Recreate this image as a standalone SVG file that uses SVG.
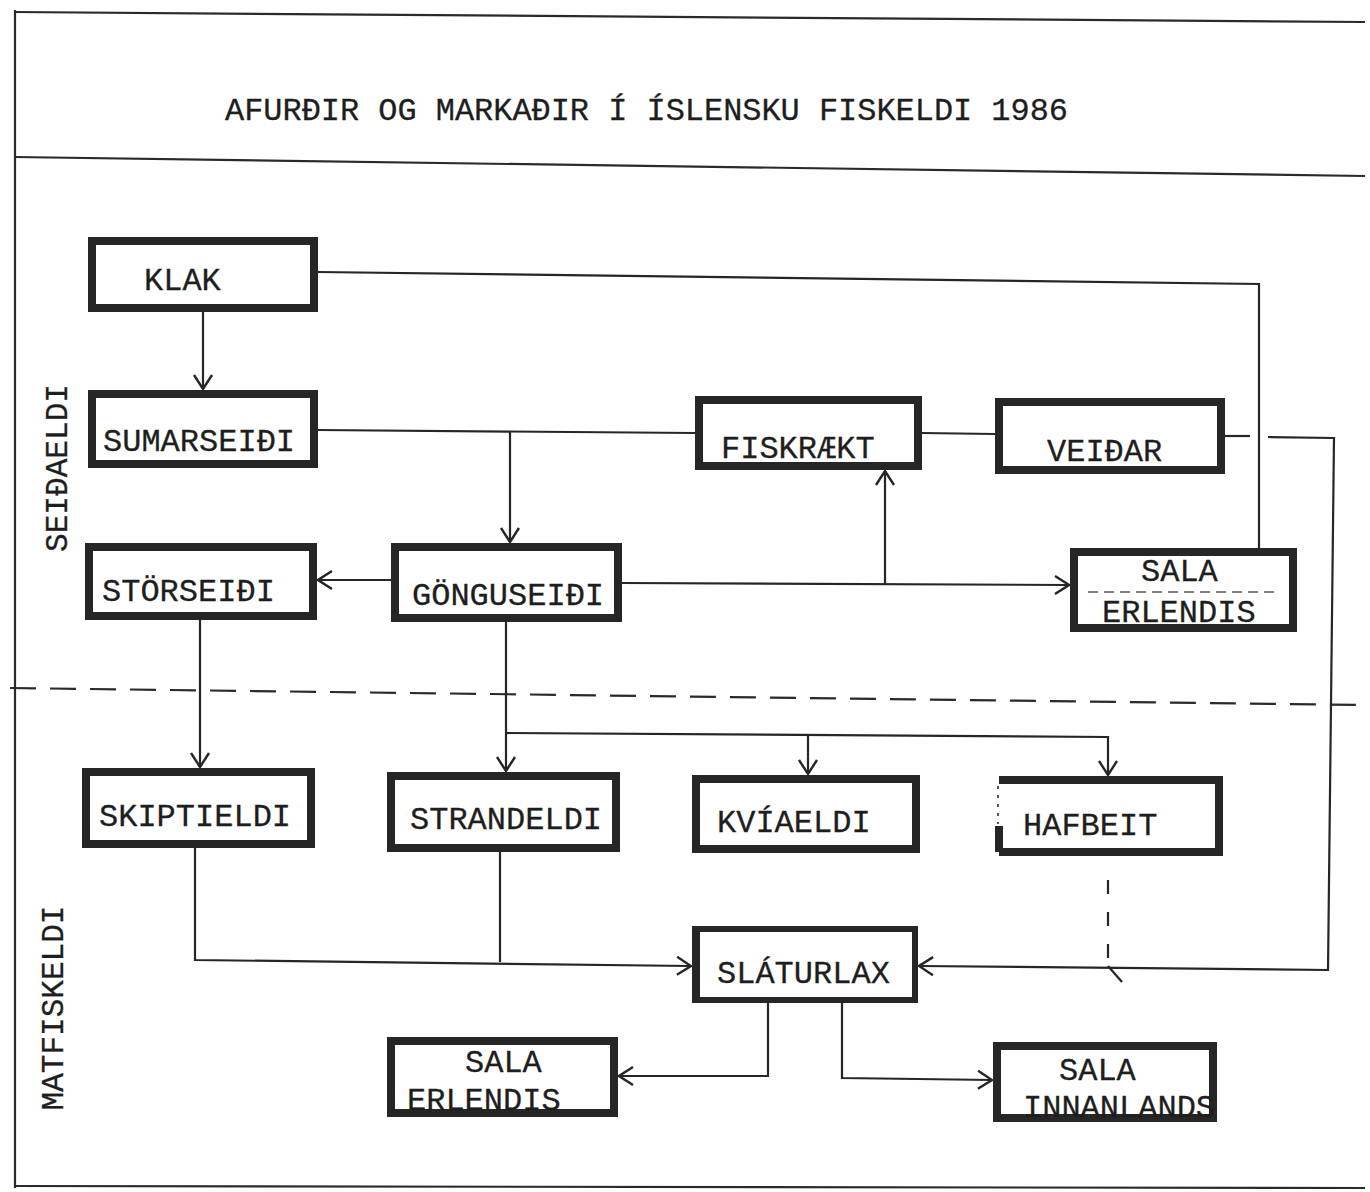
<svg xmlns="http://www.w3.org/2000/svg" width="1370" height="1192" viewBox="0 0 1370 1192">
<defs>
<style>
.t{font-family:"Liberation Mono","Courier New",monospace;font-size:32px;fill:#1e1e1e;stroke:#1e1e1e;stroke-width:0.3}
.box{fill:#fff;stroke:#262626;stroke-width:8}
.ln{fill:none;stroke:#262626;stroke-width:2.2}
.fr{fill:none;stroke:#2a2a2a;stroke-width:2.2}
</style>
<marker id="a" viewBox="-16 -11 18 22" markerWidth="18" markerHeight="22" refX="0" refY="0" orient="auto" markerUnits="userSpaceOnUse">
<path d="M-14,-9 L0,0 L-14,9" fill="none" stroke="#262626" stroke-width="2.4"/>
</marker>
</defs>
<rect width="1370" height="1192" fill="#fff"/>
<g id="frame">
<path class="fr" d="M15,10 V1188"/>
<path class="fr" d="M14,12 L1365,22"/>
<path class="fr" d="M14,157 L1365,176"/>
<path class="fr" d="M14,1186 L1365,1188"/>
<path d="M10,688 L1365,705" fill="none" stroke="#2a2a2a" stroke-width="2.2" stroke-dasharray="26 14"/>
<text class="t" x="225" y="120" textLength="843" lengthAdjust="spacingAndGlyphs">AFURÐIR OG MARKAÐIR Í ÍSLENSKU FISKELDI 1986</text>
<text class="t" transform="translate(67,468) rotate(-90)" text-anchor="middle" font-size="29" textLength="168" lengthAdjust="spacingAndGlyphs">SEIÐAELDI</text>
<text class="t" transform="translate(63,1008) rotate(-90)" text-anchor="middle" font-size="29" textLength="205" lengthAdjust="spacingAndGlyphs">MATFISKELDI</text>
</g>
<g id="connectors">
<path class="ln" d="M203,312 V389" marker-end="url(#a)"/>
<path class="ln" d="M318,272 L1259,284 V548"/>
<path class="ln" d="M318,430 L695,433"/>
<path class="ln" d="M922,433 L995,434"/>
<path class="ln" d="M1225,436 L1250,436"/>
<path class="ln" d="M1268,437 L1334,438 L1328,970 L919,966" marker-end="url(#a)"/>
<path class="ln" d="M510,431 V542" marker-end="url(#a)"/>
<path class="ln" d="M391,580 L318,580" marker-end="url(#a)"/>
<path class="ln" d="M622,583 L1069,585" marker-end="url(#a)"/>
<path class="ln" d="M885,584 V471" marker-end="url(#a)"/>
<path class="ln" d="M200,620 V767" marker-end="url(#a)"/>
<path class="ln" d="M506,622 V771" marker-end="url(#a)"/>
<path class="ln" d="M506,733 L1108,737 V775" marker-end="url(#a)"/>
<path class="ln" d="M808,735 V774" marker-end="url(#a)"/>
<path class="ln" d="M195,848 V960 L691,966" marker-end="url(#a)"/>
<path class="ln" d="M500,852 V962"/>
<path class="ln" d="M1108,880 V965" stroke-dasharray="14 18"/>
<path class="ln" d="M1108,966 L1122,982"/>
<path class="ln" d="M768,1003 V1076 L619,1076" marker-end="url(#a)"/>
<path class="ln" d="M842,1003 V1078 L992,1080" marker-end="url(#a)"/>
</g>
<g id="klak"><rect class="box" x="92" y="241" width="222" height="67"/><text class="t" x="144" y="290">KLAK</text></g>
<g id="sumarseidi"><rect class="box" x="92" y="394" width="222" height="70"/><text class="t" x="103" y="451">SUMARSEIÐI</text></g>
<g id="fiskraekt"><rect class="box" x="699" y="400" width="219" height="66"/><text class="t" x="721" y="458">FISKRÆKT</text></g>
<g id="veidar"><rect class="box" x="999" y="402" width="222" height="68"/><text class="t" x="1047" y="461">VEIÐAR</text></g>
<g id="sala-erlendis-1"><rect class="box" x="1074" y="552" width="219" height="76"/><path d="M1088,592 H1276" stroke="#555" stroke-width="1.5" stroke-dasharray="10 6"/><text class="t" x="1141" y="581">SALA</text><text class="t" x="1102" y="622">ERLENDIS</text></g>
<g id="storseidi"><rect class="box" x="89" y="547" width="224" height="69"/><text class="t" x="102" y="601">STÖRSEIÐI</text></g>
<g id="gonguseidi"><rect class="box" x="395" y="547" width="223" height="71"/><text class="t" x="412" y="605">GÖNGUSEIÐI</text></g>
<g id="skiptieldi"><rect class="box" x="86" y="772" width="225" height="72"/><text class="t" x="99" y="826">SKIPTIELDI</text></g>
<g id="strandeldi"><rect class="box" x="391" y="776" width="225" height="72"/><text class="t" x="410" y="829">STRANDELDI</text></g>
<g id="kviaeldi"><rect class="box" x="696" y="779" width="220" height="70"/><text class="t" x="717" y="832">KVÍAELDI</text></g>
<g id="hafbeit"><rect x="999" y="780" width="220" height="72" fill="#fff"/><path d="M999,780 H1219 V852 H999" fill="none" stroke="#262626" stroke-width="8"/><path d="M999,826 V852" stroke="#262626" stroke-width="8"/><path d="M998,786 V824" stroke="#555" stroke-width="2" stroke-dasharray="3 6"/><text class="t" x="1023" y="835">HAFBEIT</text></g>
<g id="slaturlax"><rect x="695" y="929" width="220" height="71" fill="#fff" stroke="#262626" stroke-width="6"/><path d="M696,929 V1000" stroke="#262626" stroke-width="8"/><text class="t" x="717" y="983">SLÁTURLAX</text></g>
<g id="sala-erlendis-2"><rect class="box" x="391" y="1041" width="223" height="72"/><text class="t" x="465" y="1072">SALA</text><text class="t" x="407" y="1110">ERLENDIS</text></g>
<g id="sala-innanlands"><rect class="box" x="997" y="1046" width="216" height="72"/><text class="t" x="1059" y="1080">SALA</text><text class="t" x="1023" y="1117">INNANLANDS</text></g>
</svg>
